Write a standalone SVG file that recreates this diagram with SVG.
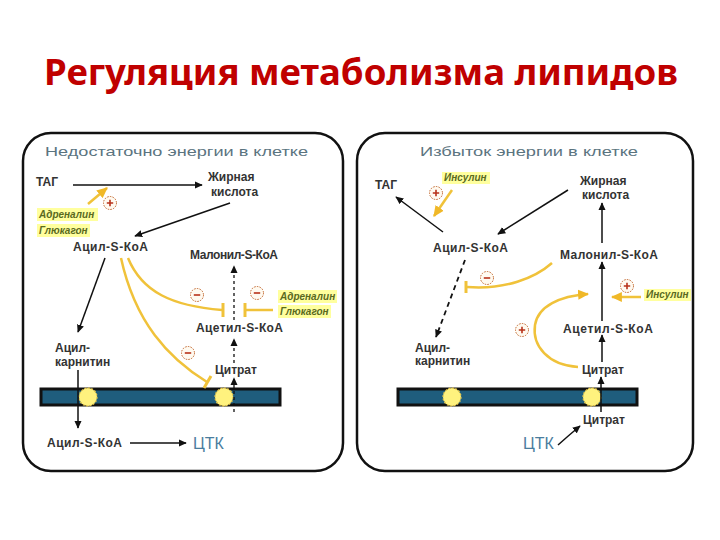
<svg xmlns="http://www.w3.org/2000/svg" width="720" height="540" viewBox="0 0 720 540">
<defs>
<style>
.lbl{font-family:"Liberation Sans",Arial,sans-serif;font-weight:bold;font-size:12px;fill:#333}
.hdr{font-family:"Liberation Sans",Arial,sans-serif;font-size:13px;fill:#5b747f}
.hl{fill:#ffff9e}
.ht{font-family:"Liberation Sans",Arial,sans-serif;font-style:italic;font-weight:bold;font-size:10px;fill:#5a6a1e}
.tca{font-family:"Liberation Sans",Arial,sans-serif;font-size:16px;fill:#4a7d9e}
.panel{fill:#fff;stroke:#111;stroke-width:2.5}
.blk{stroke:#111;stroke-width:1.5;fill:none}
.dash{stroke:#111;stroke-width:1.3;fill:none;stroke-dasharray:3 3}
.dash2{stroke:#111;stroke-width:1.8;fill:none;stroke-dasharray:5 4}
.yel{stroke:#f0c23a;stroke-width:2.5;fill:none}
.tbar{stroke:#f0c23a;stroke-width:3;fill:none}
.mem{fill:#1f5d7d;stroke:#111;stroke-width:3}
.pore{fill:#fff27e;stroke:#e9c94a;stroke-width:1.2;stroke-dasharray:2 1.5}
.sc{fill:#fffaf0;stroke:#c0642a;stroke-width:1;stroke-dasharray:1.5 1.2}
.sg{stroke:#b8321a;stroke-width:1.6;fill:none}
</style>
<marker id="ah" viewBox="0 0 10 10" refX="9" refY="5" markerWidth="8" markerHeight="8" markerUnits="userSpaceOnUse" orient="auto"><path d="M0,0.5 L10,5 L0,9.5 z" fill="#111"/></marker>
<marker id="ay" viewBox="0 0 10 10" refX="9" refY="5" markerWidth="11" markerHeight="11" markerUnits="userSpaceOnUse" orient="auto"><path d="M0,0.5 L10,5 L0,9.5 z" fill="#f0b828"/></marker>
<g id="plus"><circle class="sc" r="6.5"/><path class="sg" d="M-3.2,0H3.2M0,-3.2V3.2"/></g>
<g id="minus"><circle class="sc" r="6.5"/><path class="sg" d="M-3.2,0H3.2"/></g>
</defs>
<rect width="720" height="540" fill="#fff"/>

<g id="title"><text x="361" y="85" text-anchor="middle" font-family="'Noto Sans','Open Sans',sans-serif" font-weight="bold" font-size="36" fill="#c00000" textLength="634" lengthAdjust="spacingAndGlyphs">Регуляция метаболизма липидов</text></g>

<g id="left-panel">
<rect class="panel" x="23" y="133" width="320" height="338" rx="28"/>
<text class="hdr" x="45" y="156" textLength="263" lengthAdjust="spacingAndGlyphs">Недостаточно энергии в клетке</text>
</g>
<g id="right-panel">
<rect class="panel" x="357" y="133" width="336" height="338" rx="28"/>
<text class="hdr" x="420" y="156" textLength="218" lengthAdjust="spacingAndGlyphs">Избыток энергии в клетке</text>
</g>

<g id="l-membrane">
<rect class="mem" x="41" y="389" width="239" height="16"/>
<circle class="pore" cx="88" cy="397" r="9"/>
<circle class="pore" cx="224" cy="397" r="9"/>
</g>
<g id="r-membrane">
<rect class="mem" x="398" y="389" width="239" height="16"/>
<circle class="pore" cx="452" cy="397" r="9"/>
<circle class="pore" cx="592" cy="397" r="9"/>
</g>

<g id="connectors">
<line class="blk" x1="73" y1="185" x2="202" y2="185" marker-end="url(#ah)"/>
<line class="blk" x1="230" y1="203" x2="135" y2="236" marker-end="url(#ah)"/>
<line class="blk" x1="105" y1="258" x2="78" y2="332" marker-end="url(#ah)"/>
<line class="blk" x1="78" y1="370" x2="78" y2="428" marker-end="url(#ah)"/>
<line class="blk" x1="130" y1="443" x2="186" y2="443" marker-end="url(#ah)"/>
<line class="dash" x1="234" y1="412" x2="234" y2="378" marker-end="url(#ah)"/>
<line class="dash" x1="234" y1="363" x2="234" y2="339" marker-end="url(#ah)"/>
<line class="dash" x1="234" y1="320" x2="234" y2="266" marker-end="url(#ah)"/>
<line class="yel" x1="88" y1="204" x2="107" y2="188" marker-end="url(#ay)"/>
<path class="yel" d="M128,258 C142,292 172,306 222,310"/>
<line class="tbar" x1="223" y1="303" x2="223" y2="317"/>
<line class="yel" x1="273" y1="310" x2="245" y2="310"/>
<line class="tbar" x1="245" y1="303" x2="245" y2="317"/>
<path class="yel" d="M121,258 C135,322 168,358 207,382"/>
<line class="tbar" x1="211" y1="376" x2="204" y2="388"/>
<line class="blk" x1="443" y1="232" x2="396" y2="197" marker-end="url(#ah)"/>
<line class="blk" x1="568" y1="190" x2="498" y2="234" marker-end="url(#ah)"/>
<line class="blk" x1="602" y1="243" x2="602" y2="203" marker-end="url(#ah)"/>
<line class="blk" x1="602" y1="321" x2="602" y2="262" marker-end="url(#ah)"/>
<line class="blk" x1="602" y1="362" x2="602" y2="335" marker-end="url(#ah)"/>
<line class="blk" x1="601" y1="412" x2="601" y2="377" marker-end="url(#ah)"/>
<path class="blk" d="M558,445 Q568,436 580,426" marker-end="url(#ah)"/>
<line class="dash2" x1="465" y1="260" x2="436" y2="337" marker-end="url(#ah)"/>
<line class="yel" x1="452" y1="190" x2="434" y2="216" marker-end="url(#ay)"/>
<path class="yel" d="M552,263 C535,278 505,290 467,287"/>
<line class="tbar" x1="466" y1="281" x2="466" y2="293"/>
<line class="yel" x1="641" y1="297" x2="612" y2="297" marker-end="url(#ay)"/>
<path class="yel" d="M578,367 C548,365 532,346 535,325 C538,306 560,296 588,294" marker-end="url(#ay)"/>
</g>

<g id="signs">
<use href="#plus" x="110" y="203"/>
<use href="#minus" x="197" y="295"/>
<use href="#minus" x="257" y="293"/>
<use href="#minus" x="188" y="353"/>
<use href="#plus" x="436" y="193"/>
<use href="#minus" x="487" y="278"/>
<use href="#plus" x="627" y="286"/>
<use href="#plus" x="522" y="330"/>
</g>

<g id="l-tag"><text class="lbl" x="36" y="186">ТАГ</text></g>
<g id="l-fa"><text class="lbl" x="208" y="181">Жирная</text><text class="lbl" x="211" y="196">кислота</text></g>
<g id="l-hormones1">
<rect class="hl" x="37" y="208" width="61" height="13"/>
<rect class="hl" x="37" y="224" width="53" height="13"/>
<text class="ht" x="39" y="218">Адреналин</text>
<text class="ht" x="39" y="234">Глюкагон</text>
</g>
<g id="l-acyl"><text class="lbl" x="73" y="251" textLength="75">Ацил-S-КоА</text></g>
<g id="l-malonyl"><text class="lbl" x="190" y="259" font-size="11" textLength="88">Малонил-S-КоА</text></g>
<g id="l-hormones2">
<rect class="hl" x="278" y="290" width="59" height="13"/>
<rect class="hl" x="278" y="305" width="53" height="13"/>
<text class="ht" x="280" y="300">Адреналин</text>
<text class="ht" x="280" y="315">Глюкагон</text>
</g>
<g id="l-acetyl"><text class="lbl" x="196" y="332" textLength="87">Ацетил-S-КоА</text></g>
<g id="l-acylcarn"><text class="lbl" x="55" y="352">Ацил-</text><text class="lbl" x="55" y="366">карнитин</text></g>
<g id="l-citrate"><text class="lbl" x="215" y="374">Цитрат</text></g>
<g id="l-acyl2"><text class="lbl" x="47" y="447" textLength="75">Ацил-S-КоА</text></g>
<g id="l-tca"><text class="tca" x="193" y="449">ЦТК</text></g>

<g id="r-tag"><text class="lbl" x="375" y="189">ТАГ</text></g>
<g id="r-insulin1"><rect class="hl" x="442" y="172" width="48" height="12"/><text class="ht" x="444" y="181">Инсулин</text></g>
<g id="r-fa"><text class="lbl" x="580" y="185">Жирная</text><text class="lbl" x="582" y="199">кислота</text></g>
<g id="r-acyl"><text class="lbl" x="433" y="252" textLength="75">Ацил-S-КоА</text></g>
<g id="r-malonyl"><text class="lbl" x="560" y="259" textLength="98">Малонил-S-КоА</text></g>
<g id="r-insulin2"><rect class="hl" x="644" y="289" width="47" height="12"/><text class="ht" x="646" y="298">Инсулин</text></g>
<g id="r-acetyl"><text class="lbl" x="563" y="333" textLength="90">Ацетил-S-КоА</text></g>
<g id="r-acylcarn"><text class="lbl" x="415" y="352">Ацил-</text><text class="lbl" x="415" y="365">карнитин</text></g>
<g id="r-citrate1"><text class="lbl" x="582" y="374">Цитрат</text></g>
<g id="r-citrate2"><text class="lbl" x="583" y="424">Цитрат</text></g>
<g id="r-tca"><text class="tca" x="523" y="449">ЦТК</text></g>
</svg>
